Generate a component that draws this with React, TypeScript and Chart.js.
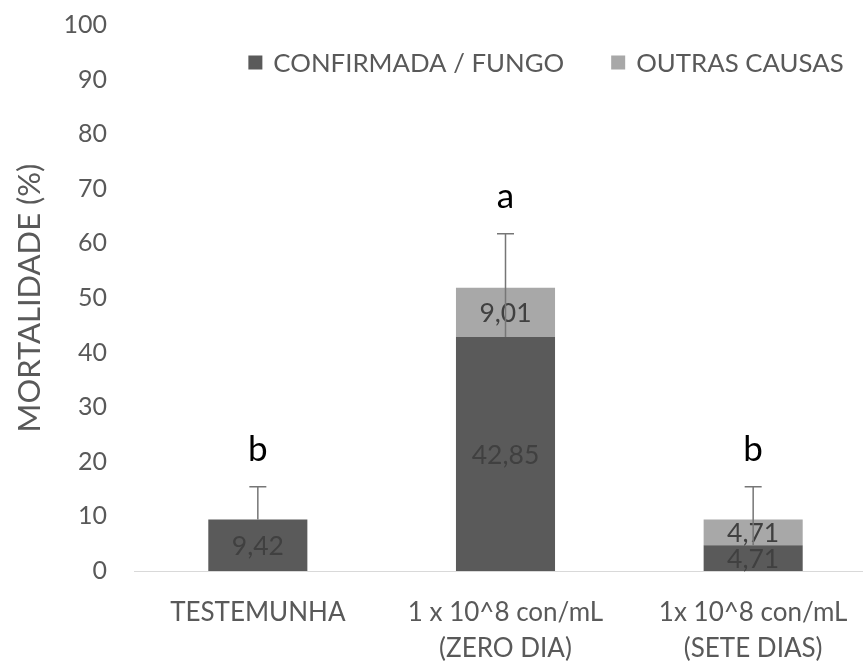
import React, { useEffect, useRef } from "react";
import { Chart, registerables } from "chart.js";

Chart.register(...registerables);

const categories: string[][] = [
  ["TESTEMUNHA"],
  ["1 x 10^8 con/mL", "(ZERO DIA)"],
  ["1x 10^8 con/mL", "(SETE DIAS)"],
];
const seriesNames = ["CONFIRMADA / FUNGO", "OUTRAS CAUSAS"];
const confirmada = [9.42, 42.85, 4.71];
const outras = [0, 9.01, 4.71];
const errorPlus = [6.0, 18.9, 10.7];
const letters = ["b", "a", "b"];
const yMin = 0;
const yMax = 100;
const yStep = 10;

const FONT = "Lato";
const TEXT = "#595959";
const DARK = "#5a5a5a";
const LIGHT = "#a8a8a8";

const fmt = (v: number) => v.toFixed(2).replace(".", ",");

const extras = {
  id: "extras",
  afterDatasetsDraw(chart: any) {
    const ctx = chart.ctx;
    const ys = chart.scales.y;
    ctx.save();
    // data labels
    ctx.font = `26.5px ${FONT}`;
    ctx.fillStyle = "#404040";
    ctx.textAlign = "center";
    ctx.textBaseline = "middle";
    chart.data.datasets.forEach((ds: any, di: number) => {
      const meta = chart.getDatasetMeta(di);
      meta.data.forEach((bar: any, i: number) => {
        const v = ds.data[i];
        if (!v) return;
        const p = bar.getProps(["x", "y", "base"], true);
        ctx.fillText(fmt(v), p.x, (p.y + p.base) / 2 + 1);
      });
    });
    // error bars + letters
    const meta0 = chart.getDatasetMeta(0);
    meta0.data.forEach((bar: any, i: number) => {
      const x = bar.x;
      const y0 = ys.getPixelForValue(confirmada[i]);
      const y1 = ys.getPixelForValue(confirmada[i] + errorPlus[i]);
      ctx.strokeStyle = "#767676";
      ctx.lineWidth = 1.5;
      ctx.beginPath();
      ctx.moveTo(x, y0);
      ctx.lineTo(x, y1);
      ctx.moveTo(x - 8.5, y1);
      ctx.lineTo(x + 8.5, y1);
      ctx.stroke();
      ctx.fillStyle = "#000000";
      ctx.font = `35px ${FONT}`;
      ctx.textBaseline = "alphabetic";
      ctx.fillText(letters[i], x, y1 - 26);
    });
    ctx.restore();
  },
  afterDraw(chart: any) {
    const ctx = chart.ctx;
    ctx.save();
    ctx.font = `25.8px ${FONT}`;
    ctx.textBaseline = "middle";
    ctx.textAlign = "left";
    const box = 14;
    const gap = 11;
    const spacing = 47;
    const ds = chart.data.datasets;
    const widths = ds.map((d: any) => ctx.measureText(d.label).width);
    const total = widths.reduce((a: number, w: number) => a + box + gap + w, 0) + spacing * (ds.length - 1);
    let x = 546 - total / 2;
    const yc = 62.5;
    ds.forEach((d: any, i: number) => {
      ctx.fillStyle = d.backgroundColor;
      ctx.fillRect(x, yc - box / 2, box, box);
      ctx.fillStyle = TEXT;
      ctx.fillText(d.label, x + box + gap, yc + 1);
      x += box + gap + widths[i] + spacing;
    });
    ctx.restore();
  },
};

export default function App() {
  const ref = useRef<HTMLCanvasElement | null>(null);
  useEffect(() => {
    if (!ref.current) return;
    const chart = new Chart(ref.current, {
      type: "bar",
      data: {
        labels: categories,
        datasets: [
          { label: seriesNames[0], data: confirmada, backgroundColor: DARK, barPercentage: 0.4, categoryPercentage: 1 },
          { label: seriesNames[1], data: outras, backgroundColor: LIGHT, barPercentage: 0.4, categoryPercentage: 1 },
        ],
      },
      options: {
        animation: false,
        responsive: false,
        devicePixelRatio: 1,
        layout: { padding: { top: 25, left: 0, right: 0, bottom: 0 } },
        plugins: { legend: { display: false }, tooltip: { enabled: false } },
        scales: {
          x: {
            stacked: true,
            grid: { display: false, drawTicks: false },
            border: { display: true, color: "#d9d9d9", width: 1 },
            ticks: { color: TEXT, font: { family: FONT, size: 26, lineHeight: 1.4 }, padding: 23, maxRotation: 0 },
            afterFit: (s: any) => { s.height = 91; },
          },
          y: {
            stacked: true,
            min: yMin,
            max: yMax,
            grid: { display: false, drawTicks: false },
            border: { display: false },
            ticks: { stepSize: yStep, color: TEXT, font: { family: FONT, size: 25 }, padding: 27 },
            title: { display: true, text: "MORTALIDADE (%)", color: TEXT, font: { family: FONT, size: 31 }, padding: { top: 11, bottom: 0 } },
            afterFit: (s: any) => { s.width = 134; s.paddingTop = 0; s.paddingBottom = 0; },
          },
        },
      },
      plugins: [extras],
    });
    return () => chart.destroy();
  }, []);
  return (
    <div style={{ position: "absolute", left: 0, top: 0, width: 863, height: 662, overflow: "hidden", background: "#fff" }}>
      <canvas ref={ref} width={877} height={662} style={{ width: 877, height: 662, display: "block" }} />
    </div>
  );
}
